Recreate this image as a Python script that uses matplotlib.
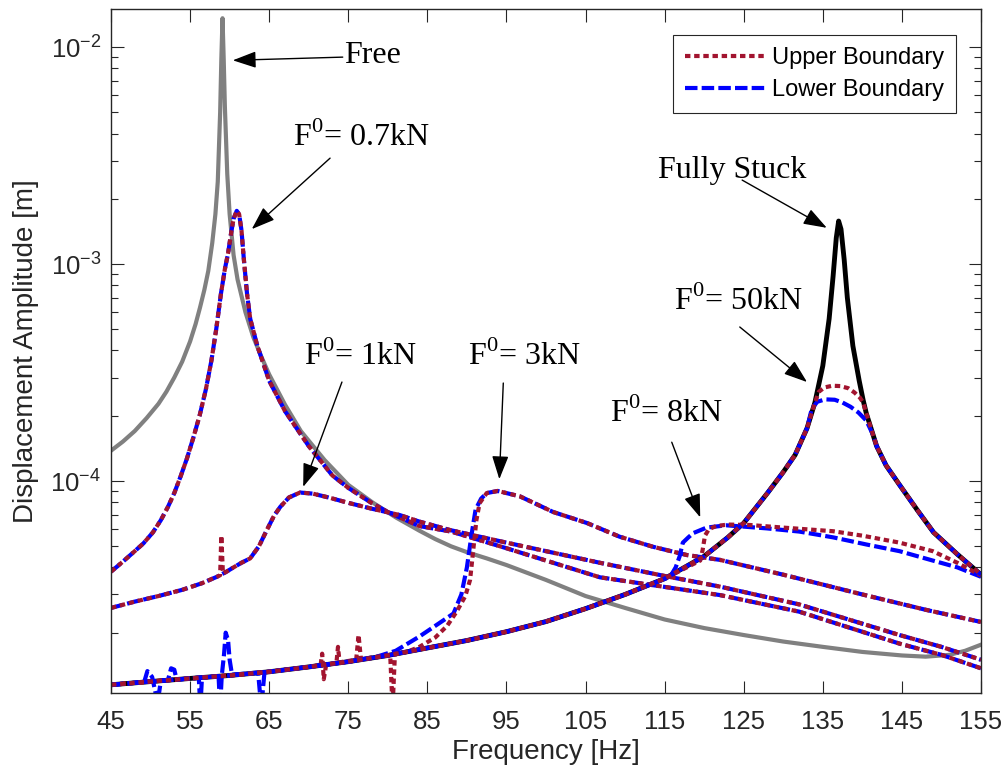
import numpy as np
import matplotlib.pyplot as plt
from matplotlib.ticker import FixedLocator, LogLocator, FuncFormatter, NullFormatter
from matplotlib.patches import ArrowStyle

plt.rcParams['font.family'] = ['Liberation Sans', 'DejaVu Sans']
plt.rcParams['axes.unicode_minus'] = True

# ---- free (no friction contact) response ----
free_f = [45, 46.5, 48, 49.5, 51, 52, 53, 54, 55, 55.7, 56.25, 56.8, 57.3, 57.8, 58.2, 58.5,
          58.8, 58.95, 59.1, 59.25, 59.4, 59.7, 60.0, 60.5, 61, 62, 63, 64, 65, 67, 69, 72,
          75, 78, 81, 84, 86, 88, 90, 92.5, 95, 100, 105, 110, 115, 120, 125, 130, 135, 140,
          145, 148, 151, 153, 155]
free_a = [1.38e-4, 1.52e-4, 1.7e-4, 1.95e-4, 2.27e-4, 2.58e-4, 3.0e-4, 3.55e-4, 4.4e-4,
          5.3e-4, 6.3e-4, 7.6e-4, 9.3e-4, 1.25e-3, 1.7e-3, 2.4e-3, 5.0e-3, 8.8e-3, 1.36e-2,
          8.8e-3, 5.3e-3, 2.6e-3, 1.7e-3, 1.1e-3, 8.5e-4, 6.0e-4, 4.6e-4, 3.75e-4, 3.1e-4,
          2.25e-4, 1.7e-4, 1.25e-4, 9.6e-5, 8.0e-5, 6.8e-5, 5.9e-5, 5.4e-5, 5.0e-5, 4.7e-5,
          4.4e-5, 4.1e-5, 3.5e-5, 2.95e-5, 2.6e-5, 2.3e-5, 2.1e-5, 1.95e-5, 1.82e-5, 1.72e-5,
          1.63e-5, 1.57e-5, 1.55e-5, 1.58e-5, 1.65e-5, 1.76e-5]

# ---- fully stuck response ----
stuck_f = [45, 50, 55, 60, 65, 70, 75, 80, 85, 90, 95, 100, 105, 110, 115, 120, 123, 125,
           128, 130, 131.5, 133, 134, 135, 135.8, 136.3, 136.7, 137.0, 137.3, 137.7, 138.1,
           138.8, 139.6, 140.1, 140.5, 141.8, 143, 144.7, 147, 149, 152, 155]
stuck_a = [1.15e-5, 1.19e-5, 1.23e-5, 1.27e-5, 1.32e-5, 1.39e-5, 1.47e-5, 1.57e-5, 1.7e-5,
           1.84e-5, 2.02e-5, 2.25e-5, 2.58e-5, 3.0e-5, 3.55e-5, 4.5e-5, 5.5e-5, 6.4e-5,
           8.8e-5, 1.1e-4, 1.32e-4, 1.75e-4, 2.3e-4, 3.4e-4, 5.6e-4, 8.8e-4, 1.32e-3, 1.58e-3,
           1.45e-3, 1.05e-3, 7.0e-4, 4.2e-4, 2.9e-4, 2.36e-4, 2.05e-4, 1.45e-4, 1.18e-4,
           9.6e-5, 7.3e-5, 5.8e-5, 4.6e-5, 3.7e-5]

# ---- F0 = 0.7 kN (upper and lower boundaries coincide) ----
f07_f = [45, 46.5, 48, 49.1, 50.3, 51.3, 52.2, 53, 53.8, 54.6, 55.4, 56.2, 57.0, 57.7, 58.3,
         58.9, 59.4, 59.8, 60.2, 60.5, 60.9, 61.2, 61.5, 61.8, 62.2, 62.6, 63.5, 65, 67, 70,
         73, 75, 78, 80.3, 84, 88, 95, 100, 106.8, 115, 122, 132, 144.7, 150, 155]
f07_a = [3.82e-5, 4.25e-5, 4.75e-5, 5.16e-5, 5.8e-5, 6.6e-5, 7.6e-5, 8.8e-5, 1.05e-4,
         1.27e-4, 1.58e-4, 2.0e-4, 2.65e-4, 3.6e-4, 5.0e-4, 7.3e-4, 9.5e-4, 1.12e-3, 1.4e-3,
         1.62e-3, 1.76e-3, 1.7e-3, 1.43e-3, 1.05e-3, 7.3e-4, 5.6e-4, 4.2e-4, 2.9e-4, 2.1e-4,
         1.45e-4, 1.06e-4, 9.3e-5, 7.9e-5, 7.1e-5, 6.2e-5, 5.85e-5, 4.9e-5, 4.3e-5, 3.6e-5,
         3.25e-5, 2.98e-5, 2.5e-5, 1.78e-5, 1.58e-5, 1.37e-5]

# ---- F0 = 1 kN ----
f1_lo_f = [45, 48, 51, 54, 56.5, 58.4, 59.5, 60.5, 61.5, 62.6, 63.7, 64.7, 65.6, 66.4, 67.5,
           68.9, 70.5, 72.5, 75.2, 78, 81.5, 84, 87.9, 95, 100, 106.8, 115, 122, 132, 144.7,
           150, 155]
f1_lo_a = [2.6e-5, 2.78e-5, 2.95e-5, 3.15e-5, 3.38e-5, 3.62e-5, 3.8e-5, 4.0e-5, 4.2e-5,
           4.4e-5, 5.0e-5, 5.94e-5, 6.9e-5, 7.6e-5, 8.4e-5, 8.85e-5, 8.75e-5, 8.4e-5, 7.9e-5,
           7.45e-5, 6.97e-5, 6.5e-5, 5.94e-5, 5.2e-5, 4.75e-5, 4.2e-5, 3.65e-5, 3.26e-5,
           2.7e-5, 1.95e-5, 1.72e-5, 1.5e-5]
f1_up_f = [45, 48, 51, 54, 56.5, 58.4, 58.8, 58.95, 59.15, 59.5, 60.5, 61.5, 62.6, 63.7,
           64.7, 65.6, 66.4, 67.5, 68.9, 70.5, 72.5, 75.2, 78, 81.5, 84, 87.9, 95, 100, 106.8,
           115, 122, 132, 144.7, 150, 155]
f1_up_a = [2.6e-5, 2.78e-5, 2.95e-5, 3.15e-5, 3.38e-5, 3.62e-5, 3.68e-5, 5.6e-5, 3.75e-5,
           3.8e-5, 4.0e-5, 4.2e-5, 4.4e-5, 5.0e-5, 5.94e-5, 6.9e-5, 7.6e-5, 8.4e-5, 8.85e-5,
           8.75e-5, 8.4e-5, 7.9e-5, 7.45e-5, 6.97e-5, 6.5e-5, 5.94e-5, 5.2e-5, 4.75e-5,
           4.2e-5, 3.65e-5, 3.26e-5, 2.7e-5, 1.95e-5, 1.72e-5, 1.5e-5]

# ---- F0 = 3 kN ----
f3_lo_f = [45, 50, 55, 60, 65, 70, 75, 78.6, 81, 84, 86, 88.3, 89.3, 90.0, 90.6, 91.1, 91.8,
           92.5, 93.9, 96.7, 100.9, 105.2, 109.3, 113.5, 117.8, 122, 130, 140, 148, 155]
f3_lo_a = [1.15e-5, 1.19e-5, 1.23e-5, 1.27e-5, 1.32e-5, 1.39e-5, 1.47e-5, 1.55e-5, 1.65e-5,
           1.92e-5, 2.15e-5, 2.45e-5, 3.0e-5, 4.0e-5, 5.7e-5, 7.4e-5, 8.3e-5, 8.8e-5, 9.0e-5,
           8.5e-5, 7.2e-5, 6.4e-5, 5.54e-5, 4.98e-5, 4.56e-5, 4.33e-5, 3.7e-5, 3.0e-5,
           2.55e-5, 2.24e-5]
f3_up_f = [45, 50, 55, 60, 65, 70, 71.5, 71.7, 71.9, 72.2, 73.5, 73.7, 73.9, 76.0, 76.3, 76.6,
           80.3, 80.6, 80.9, 82.4, 84, 86, 87.5, 88.7, 89.8, 90.4, 90.8, 91.2, 91.6, 92.5,
           93.9, 96.7, 100.9, 105.2, 109.3, 113.5, 117.8, 122, 130, 140, 148, 155]
f3_up_a = [1.15e-5, 1.19e-5, 1.23e-5, 1.27e-5, 1.32e-5, 1.39e-5, 1.42e-5, 1.6e-5, 1.22e-5,
           1.42e-5, 1.45e-5, 1.72e-5, 1.46e-5, 1.5e-5, 1.95e-5, 1.51e-5, 1.58e-5, 9e-6,
           1.6e-5, 1.63e-5, 1.72e-5, 1.9e-5, 2.15e-5, 2.5e-5, 2.95e-5, 3.5e-5, 4.8e-5, 6.6e-5,
           7.9e-5, 8.8e-5, 9.0e-5, 8.5e-5, 7.2e-5, 6.4e-5, 5.54e-5, 4.98e-5, 4.56e-5, 4.33e-5,
           3.7e-5, 3.0e-5, 2.55e-5, 2.24e-5]

# ---- F0 = 8 kN ----
f8_lo_f = [45, 49.2, 49.6, 50.2, 50.9, 51.3, 52.2, 52.6, 53.0, 53.3, 56.1, 56.3, 56.5, 58.6,
           58.8, 59.0, 59.3, 59.5, 59.8, 60.0, 60.3, 63.6, 64.0, 64.4, 65, 70, 75, 80, 85, 90,
           95, 100, 105, 110, 115.7, 116.4, 116.9, 117.3, 118.0, 118.6, 120.3, 122.8, 127.9,
           132, 136.3, 140.5, 144.7, 148.9, 152, 155]
f8_lo_a = [1.15e-5, 1.185e-5, 1.33e-5, 1.25e-5, 9.5e-6, 1.2e-5, 1.21e-5, 1.37e-5, 1.35e-5,
           1.215e-5, 1.24e-5, 9e-6, 1.24e-5, 1.26e-5, 9e-6, 1.26e-5, 1.6e-5, 2.0e-5, 1.85e-5,
           1.5e-5, 1.28e-5, 1.31e-5, 9e-6, 1.31e-5, 1.32e-5, 1.39e-5, 1.47e-5, 1.57e-5, 1.7e-5,
           1.84e-5, 2.02e-5, 2.25e-5, 2.58e-5, 3.0e-5, 3.62e-5, 4.0e-5, 4.5e-5, 5.2e-5, 5.5e-5,
           5.75e-5, 6.1e-5, 6.25e-5, 6.05e-5, 5.85e-5, 5.5e-5, 5.1e-5, 4.75e-5, 4.3e-5, 4.0e-5,
           3.62e-5]
f8_up_f = [45, 50, 55, 60, 65, 70, 75, 80, 85, 90, 95, 100, 105, 110, 115, 119.5, 119.8,
           120.1, 120.6, 121.5, 123, 125.8, 130, 136.3, 140, 144.7, 148.9, 152, 155]
f8_up_a = [1.15e-5, 1.19e-5, 1.23e-5, 1.27e-5, 1.32e-5, 1.39e-5, 1.47e-5, 1.57e-5, 1.7e-5,
           1.84e-5, 2.02e-5, 2.25e-5, 2.58e-5, 3.0e-5, 3.55e-5, 4.3e-5, 4.8e-5, 5.6e-5, 6.0e-5,
           6.2e-5, 6.3e-5, 6.27e-5, 6.1e-5, 5.87e-5, 5.6e-5, 5.2e-5, 4.75e-5, 4.2e-5, 3.67e-5]

# ---- F0 = 50 kN ----
f50_lo_f = [45, 50, 55, 60, 65, 70, 75, 80, 85, 90, 95, 100, 105, 110, 115, 120, 123, 125,
            128, 130, 131.5, 133, 133.6, 134.3, 135.3, 136.5, 137.5, 138.5, 139.5, 140.5,
            141.4, 141.8, 143, 144.7, 147, 149, 152, 155]
f50_lo_a = [1.15e-5, 1.19e-5, 1.23e-5, 1.27e-5, 1.32e-5, 1.39e-5, 1.47e-5, 1.57e-5, 1.7e-5,
            1.84e-5, 2.02e-5, 2.25e-5, 2.58e-5, 3.0e-5, 3.55e-5, 4.5e-5, 5.5e-5, 6.4e-5,
            8.8e-5, 1.1e-4, 1.32e-4, 1.75e-4, 2.15e-4, 2.32e-4, 2.38e-4, 2.37e-4, 2.3e-4,
            2.2e-4, 2.07e-4, 1.9e-4, 1.62e-4, 1.45e-4, 1.18e-4, 9.6e-5, 7.3e-5, 5.8e-5, 4.6e-5,
            3.7e-5]
f50_up_f = [45, 50, 55, 60, 65, 70, 75, 80, 85, 90, 95, 100, 105, 110, 115, 120, 123, 125,
            128, 130, 131.5, 133, 134, 134.5, 135.2, 136.2, 137.2, 138.2, 139, 139.7, 140.1,
            140.5, 141.8, 143, 144.7, 147, 149, 152, 155]
f50_up_a = [1.15e-5, 1.19e-5, 1.23e-5, 1.27e-5, 1.32e-5, 1.39e-5, 1.47e-5, 1.57e-5, 1.7e-5,
            1.84e-5, 2.02e-5, 2.25e-5, 2.58e-5, 3.0e-5, 3.55e-5, 4.5e-5, 5.5e-5, 6.4e-5,
            8.8e-5, 1.1e-4, 1.32e-4, 1.75e-4, 2.3e-4, 2.58e-4, 2.7e-4, 2.75e-4, 2.74e-4,
            2.68e-4, 2.56e-4, 2.42e-4, 2.3e-4, 2.05e-4, 1.45e-4, 1.18e-4, 9.6e-5, 7.3e-5,
            5.8e-5, 4.6e-5, 3.7e-5]

# annotations: (text, text position, arrow tail, arrow tip)
notes = [
    ('Free', (78.1, 9.2e-3), (74.3, 9.0e-3), (60.4, 8.7e-3)),
    (r'F$^{\mathregular{0}}$= 0.7kN', (76.7, 3.85e-3), (72.7, 3.08e-3), (62.8, 1.45e-3)),
    ('Fully Stuck', (123.6, 2.7e-3), (124.8, 2.44e-3), (135.5, 1.47e-3)),
    (r'F$^{\mathregular{0}}$= 50kN', (124.3, 6.7e-4), (124.5, 5.13e-4), (133.0, 2.86e-4)),
    (r'F$^{\mathregular{0}}$= 1kN', (76.5, 3.75e-4), (74.2, 2.86e-4), (69.3, 9.4e-5)),
    (r'F$^{\mathregular{0}}$= 3kN', (97.3, 3.75e-4), (94.6, 2.83e-4), (94.1, 1.02e-4)),
    (r'F$^{\mathregular{0}}$= 8kN', (115.2, 2.05e-4), (115.9, 1.51e-4), (119.5, 6.8e-5)),
]

RED = '#A2142F'
BLUE = '#0000FF'
LW = 3.0

fig = plt.figure(figsize=(10.05, 7.8), dpi=100)
ax = fig.add_axes([111 / 1005, 1 - 693 / 780, 870 / 1005, 684 / 780])

ax.plot(free_f, free_a, color='#808080', lw=3.0, solid_joinstyle='round')
ax.plot(stuck_f, stuck_a, color='k', lw=3.5, solid_joinstyle='round')

pairs = [(f07_f, f07_a, f07_f, f07_a),
         (f1_lo_f, f1_lo_a, f1_up_f, f1_up_a),
         (f3_lo_f, f3_lo_a, f3_up_f, f3_up_a),
         (f8_lo_f, f8_lo_a, f8_up_f, f8_up_a),
         (f50_lo_f, f50_lo_a, f50_up_f, f50_up_a)]

h_lo = h_up = None
for lo_f, lo_a, up_f, up_a in pairs:
    l1, = ax.plot(lo_f, lo_a, color=BLUE, lw=LW, dashes=(3.0, 1.0))
    l2, = ax.plot(up_f, up_a, color=RED, lw=LW, dashes=(1.3, 0.9))
    h_lo, h_up = l1, l2

ax.set_yscale('log')
ax.set_xlim(45, 155)
ax.set_ylim(1.054e-5, 1.5e-2)
ax.xaxis.set_major_locator(FixedLocator(np.arange(45, 156, 10)))
ax.yaxis.set_major_locator(LogLocator(base=10))
ax.yaxis.set_minor_locator(LogLocator(base=10, subs=np.arange(2, 10)))
ax.yaxis.set_minor_formatter(NullFormatter())
ax.yaxis.set_major_formatter(FuncFormatter(
    lambda v, p: r'$\mathregular{10^{%d}}$' % round(np.log10(v))))

for s in ax.spines.values():
    s.set_color('#262626')
    s.set_linewidth(1.0)
ax.tick_params(which='both', direction='in', top=True, right=True, color='#262626',
               labelcolor='#262626', labelsize=18.5, width=0.8)
ax.tick_params(which='major', length=9)
ax.tick_params(which='minor', length=5)
ax.tick_params(axis='x', pad=12)
ax.tick_params(axis='y', pad=7)

ax.set_xlabel('Frequency [Hz]', fontsize=20, color='#262626', labelpad=4)
ax.set_ylabel('Displacement Amplitude [m]', fontsize=20, color='#262626', labelpad=8)

arrow = ArrowStyle('-|>', head_length=0.9, head_width=0.32)
for txt, tpos, tail, tip in notes:
    ax.annotate('', xy=tip, xytext=tail,
                arrowprops=dict(arrowstyle=arrow, color='k', lw=1.0, mutation_scale=16,
                                shrinkA=0, shrinkB=0))
    ax.text(tpos[0], tpos[1], txt, family='Liberation Serif', fontsize=23,
            ha='center', va='center', color='k')

leg = ax.legend([h_up, h_lo], ['Upper Boundary', 'Lower Boundary'], loc='upper right',
                bbox_to_anchor=(0.9713, 0.962), borderaxespad=0, fontsize=17,
                handlelength=3.5, handletextpad=0.2, labelspacing=0.45, borderpad=0.5,
                fancybox=False, framealpha=1)
leg.get_frame().set_edgecolor('#262626')
leg.get_frame().set_linewidth(0.8)

fig.savefig('out.png', dpi=100)
